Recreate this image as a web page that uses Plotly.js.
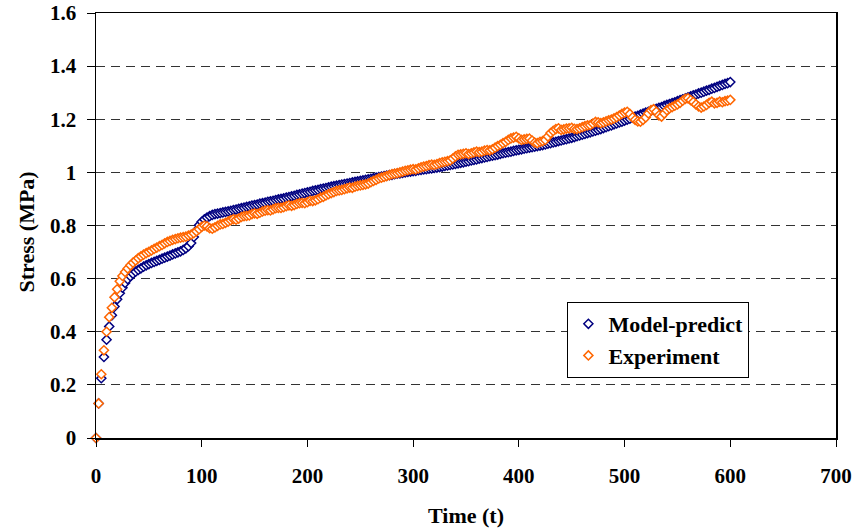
<!DOCTYPE html>
<html>
<head>
<meta charset="utf-8">
<script src="https://cdn.plot.ly/plotly-3.0.1.min.js"></script>
<style>
  html, body { margin: 0; padding: 0; background: #ffffff; }
  #chart { width: 855px; height: 531px; }
</style>
</head>
<body>
<div id="chart"></div>
<script>
// Sampling times (t)
const timeT = [
  0, 2.5, 5, 7.5, 10, 12.5, 15, 17.5, 20, 22.5,
  25, 27.5, 30, 32.5, 35, 37.5, 40, 42.5, 45, 47.5,
  50, 52.5, 55, 57.5, 60, 62.5, 65, 67.5, 70, 72.5,
  75, 77.5, 80, 82.5, 85, 87.5, 90, 92.5, 95, 97.5,
  100, 102.5, 105, 107.5, 110, 112.5, 115, 117.5, 120, 122.5,
  125, 127.5, 130, 132.5, 135, 137.5, 140, 142.5, 145, 147.5,
  150, 152.5, 155, 157.5, 160, 162.5, 165, 167.5, 170, 172.5,
  175, 177.5, 180, 182.5, 185, 187.5, 190, 192.5, 195, 197.5,
  200, 202.5, 205, 207.5, 210, 212.5, 215, 217.5, 220, 222.5,
  225, 227.5, 230, 232.5, 235, 237.5, 240, 242.5, 245, 247.5,
  250, 252.5, 255, 257.5, 260, 262.5, 265, 267.5, 270, 272.5,
  275, 277.5, 280, 282.5, 285, 287.5, 290, 292.5, 295, 297.5,
  300, 302.5, 305, 307.5, 310, 312.5, 315, 317.5, 320, 322.5,
  325, 327.5, 330, 332.5, 335, 337.5, 340, 342.5, 345, 347.5,
  350, 352.5, 355, 357.5, 360, 362.5, 365, 367.5, 370, 372.5,
  375, 377.5, 380, 382.5, 385, 387.5, 390, 392.5, 395, 397.5,
  400, 402.5, 405, 407.5, 410, 412.5, 415, 417.5, 420, 422.5,
  425, 427.5, 430, 432.5, 435, 437.5, 440, 442.5, 445, 447.5,
  450, 452.5, 455, 457.5, 460, 462.5, 465, 467.5, 470, 472.5,
  475, 477.5, 480, 482.5, 485, 487.5, 490, 492.5, 495, 497.5,
  500, 502.5, 505, 507.5, 510, 512.5, 515, 517.5, 520, 522.5,
  525, 527.5, 530, 532.5, 535, 537.5, 540, 542.5, 545, 547.5,
  550, 552.5, 555, 557.5, 560, 562.5, 565, 567.5, 570, 572.5,
  575, 577.5, 580, 582.5, 585, 587.5, 590, 592.5, 595, 597.5,
  600
];

// Model-predict stress (MPa)
const modelStress = [
  0, 0.13, 0.225, 0.305, 0.37, 0.42, 0.462, 0.495, 0.522, 0.545,
  0.566, 0.584, 0.598, 0.609, 0.618, 0.626, 0.633, 0.639, 0.645, 0.65,
  0.655, 0.659, 0.663, 0.667, 0.671, 0.675, 0.679, 0.683, 0.687, 0.691,
  0.695, 0.699, 0.703, 0.708, 0.714, 0.722, 0.734, 0.757, 0.781, 0.801,
  0.814, 0.823, 0.83, 0.835, 0.84, 0.843, 0.845, 0.847, 0.849, 0.851,
  0.853, 0.855, 0.858, 0.86, 0.863, 0.865, 0.867, 0.87, 0.872, 0.875,
  0.877, 0.879, 0.882, 0.884, 0.886, 0.889, 0.891, 0.893, 0.896, 0.898,
  0.9, 0.902, 0.905, 0.907, 0.91, 0.912, 0.915, 0.917, 0.92, 0.922,
  0.925, 0.927, 0.93, 0.932, 0.934, 0.937, 0.939, 0.941, 0.944, 0.946,
  0.948, 0.95, 0.952, 0.954, 0.956, 0.958, 0.96, 0.962, 0.964, 0.966,
  0.968, 0.97, 0.972, 0.974, 0.976, 0.978, 0.98, 0.982, 0.984, 0.986,
  0.988, 0.99, 0.991, 0.993, 0.995, 0.996, 0.998, 1.0, 1.002, 1.003,
  1.005, 1.006, 1.008, 1.009, 1.011, 1.012, 1.014, 1.015, 1.017, 1.018,
  1.02, 1.022, 1.024, 1.026, 1.028, 1.03, 1.032, 1.034, 1.036, 1.038,
  1.04, 1.042, 1.045, 1.047, 1.049, 1.052, 1.054, 1.056, 1.058, 1.061,
  1.063, 1.065, 1.067, 1.07, 1.072, 1.074, 1.076, 1.078, 1.081, 1.083,
  1.085, 1.087, 1.089, 1.091, 1.093, 1.095, 1.097, 1.099, 1.101, 1.103,
  1.105, 1.108, 1.11, 1.113, 1.115, 1.118, 1.12, 1.123, 1.125, 1.128,
  1.13, 1.133, 1.136, 1.139, 1.142, 1.145, 1.148, 1.151, 1.154, 1.157,
  1.16, 1.163, 1.167, 1.17, 1.174, 1.177, 1.181, 1.184, 1.188, 1.191,
  1.195, 1.199, 1.202, 1.206, 1.21, 1.213, 1.217, 1.221, 1.225, 1.228,
  1.232, 1.236, 1.239, 1.243, 1.246, 1.25, 1.254, 1.257, 1.261, 1.264,
  1.268, 1.272, 1.275, 1.279, 1.282, 1.286, 1.29, 1.293, 1.297, 1.3,
  1.304, 1.308, 1.311, 1.315, 1.318, 1.322, 1.326, 1.329, 1.333, 1.336,
  1.34
];

// Measured stress (MPa)
const experimentStress = [
  0, 0.13, 0.24, 0.33, 0.4, 0.455, 0.49, 0.53, 0.56, 0.59,
  0.61, 0.625, 0.638, 0.65, 0.66, 0.668, 0.677, 0.684, 0.69, 0.696,
  0.701, 0.706, 0.712, 0.717, 0.722, 0.727, 0.733, 0.738, 0.742, 0.746,
  0.749, 0.752, 0.754, 0.756, 0.758, 0.762, 0.766, 0.771, 0.778, 0.786,
  0.795, 0.8, 0.797, 0.79, 0.788, 0.793, 0.799, 0.804, 0.806, 0.81,
  0.815, 0.82, 0.824, 0.822, 0.826, 0.832, 0.835, 0.836, 0.838, 0.843,
  0.846, 0.844, 0.848, 0.853, 0.856, 0.858, 0.857, 0.861, 0.865, 0.866,
  0.866, 0.869, 0.873, 0.876, 0.874, 0.877, 0.881, 0.884, 0.885, 0.884,
  0.888, 0.893, 0.892, 0.895, 0.899, 0.905, 0.908, 0.913, 0.918, 0.922,
  0.926, 0.93, 0.932, 0.934, 0.937, 0.94, 0.943, 0.942, 0.946, 0.949,
  0.951, 0.953, 0.955, 0.958, 0.963, 0.968, 0.972, 0.977, 0.98, 0.983,
  0.986, 0.99, 0.993, 0.995, 0.997, 1.0, 1.003, 1.006, 1.008, 1.01,
  1.012, 1.011, 1.015, 1.019, 1.022, 1.024, 1.027, 1.029, 1.028, 1.031,
  1.035, 1.038, 1.04, 1.042, 1.045, 1.052, 1.06, 1.066, 1.068, 1.07,
  1.072, 1.069, 1.072, 1.075, 1.078, 1.076, 1.078, 1.082, 1.084, 1.083,
  1.087, 1.093, 1.099, 1.104, 1.11, 1.115, 1.122, 1.128, 1.131, 1.134,
  1.128, 1.122, 1.124, 1.126, 1.127, 1.12, 1.112, 1.11, 1.115, 1.118,
  1.122, 1.135, 1.148, 1.156, 1.163, 1.166, 1.16, 1.162, 1.165, 1.166,
  1.168, 1.164, 1.163, 1.166, 1.17, 1.174, 1.177, 1.178, 1.184, 1.19,
  1.188, 1.185, 1.188, 1.192, 1.196, 1.199, 1.203, 1.208, 1.214, 1.22,
  1.225, 1.228, 1.22, 1.207, 1.198, 1.192, 1.191, 1.198, 1.207, 1.222,
  1.234, 1.238, 1.228, 1.215, 1.21, 1.222, 1.234, 1.241, 1.246, 1.251,
  1.256, 1.262, 1.27, 1.277, 1.279, 1.272, 1.265, 1.256, 1.248, 1.244,
  1.248, 1.254, 1.262, 1.266, 1.26, 1.262, 1.266, 1.264, 1.268, 1.27,
  1.273
];

const seriesNames = ['Model-predict', 'Experiment'];
const seriesColors = ['#000080', '#FF6600'];
const xTitle = 'Time (t)';
const yTitle = 'Stress (MPa)';

const serif = 'Liberation Serif, Times New Roman, serif';

function markerTrace(name, yValues, color, group) {
  return {
    type: 'scatter',
    mode: 'markers',
    name: name,
    legendgroup: group,
    x: timeT,
    y: yValues,
    cliponaxis: false,
    marker: {
      symbol: 'diamond',
      size: 7,
      color: '#ffffff',
      line: { color: color, width: 1.5 }
    }
  };
}

const traces = [
  markerTrace(seriesNames[0], modelStress, seriesColors[0], 'g1'),
  markerTrace(seriesNames[1], experimentStress, seriesColors[1], 'g2')
];

const tickFont = { family: serif, size: 21, color: '#000000', weight: 'bold' };
const titleFont = { family: serif, size: 22, color: '#000000', weight: 'bold' };

const layout = {
  width: 855,
  height: 531,
  margin: { l: 96, r: 19, t: 13, b: 93, pad: 0 },
  paper_bgcolor: '#ffffff',
  plot_bgcolor: '#ffffff',
  font: tickFont,
  showlegend: true,
  xaxis: {
    range: [0, 700],
    tick0: 0,
    dtick: 100,
    showgrid: false,
    zeroline: false,
    showline: true,
    linecolor: '#000000',
    linewidth: 1.5,
    mirror: true,
    ticks: 'outside',
    ticklen: 7,
    tickwidth: 1,
    tickcolor: '#000000',
    ticklabelstandoff: 11,
    tickfont: tickFont,
    title: { text: xTitle, font: titleFont, standoff: 21 },
    automargin: false
  },
  yaxis: {
    range: [0, 1.6],
    tick0: 0,
    dtick: 0.2,
    showgrid: true,
    gridcolor: '#333333',
    gridwidth: 1,
    griddash: '9px,6px',
    zeroline: false,
    showline: true,
    linecolor: '#000000',
    linewidth: 1.5,
    mirror: true,
    ticks: 'outside',
    ticklen: 8,
    tickwidth: 1,
    tickcolor: '#000000',
    ticklabelstandoff: 6,
    tickfont: tickFont,
    automargin: false
  },
  // vertical axis title, set close to the tick labels
  annotations: [{
    text: yTitle,
    xref: 'paper', yref: 'paper',
    x: 0, y: 0.5,
    xanchor: 'center', yanchor: 'middle',
    xshift: -70, yshift: -7,
    textangle: -90,
    showarrow: false,
    font: titleFont
  }],
  legend: {
    x: 0.637,
    y: 0.32,
    xanchor: 'left',
    yanchor: 'top',
    bgcolor: '#ffffff',
    bordercolor: '#000000',
    borderwidth: 1,
    traceorder: 'grouped',
    tracegroupgap: 0,
    font: { family: serif, size: 22, color: '#000000', weight: 'bold' }
  }
};

Plotly.newPlot('chart', traces, layout, { displayModeBar: false, staticPlot: true });
</script>
</body>
</html>
